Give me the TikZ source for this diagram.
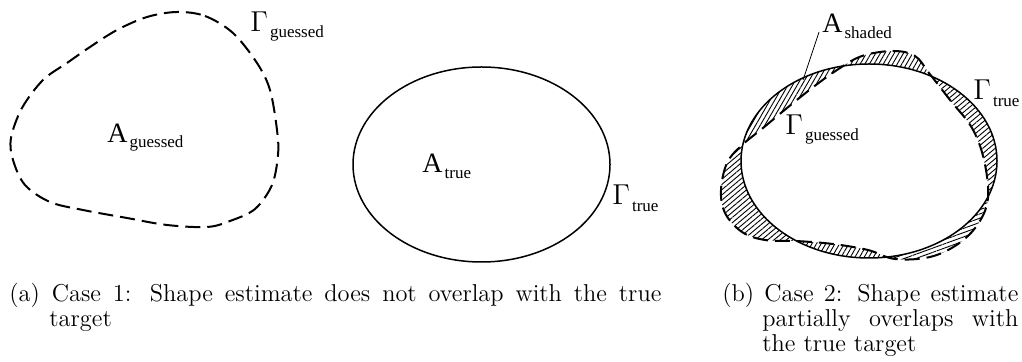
\documentclass[tikz,border=0pt]{standalone}
\usepackage{fontspec}
\newfontfamily\labfont{Liberation Serif}
\usetikzlibrary{calc,patterns.meta}
\newcommand{\mylab}[3]{{\labfont\fontsize{14}{14}\selectfont #1\hspace{1pt}\raisebox{-#3}{\fontsize{8.5}{8.5}\selectfont #2}}}
\tikzset{
  lab/.style={anchor=base west, inner sep=0pt},
  captext/.style={anchor=base west, inner sep=0pt, font=\fontsize{12.2}{12.5}\selectfont},
  truecurve/.style={line width=0.75pt},
  guesscurve/.style={line width=1pt, dash pattern=on 7.5pt off 3.5pt},
}
\begin{document}
\begin{tikzpicture}[x=0.5pt,y=-0.5pt]
\useasboundingbox (0,0) rectangle (1022,362);
% ---------- (a) ----------
\draw[guesscurve] plot[smooth cycle, tension=0.55] coordinates {
 (177,12) (205,16) (233,33) (257,63) (270,90) (277,130) (278,155) (272,185)
 (255,209) (230,221) (207,227) (167,225) (127,218) (83,210) (50,202) (25,185)
 (13,160) (11,138) (22,108) (43,80) (67,63) (90,47) (117,30) (147,17)};
\node[lab] (gga) at (250,32) {\mylab{$\Gamma$}{guessed}{3pt}};
\node[lab] (ag) at (107,143) {\mylab{A}{guessed}{2.5pt}};
\draw[truecurve] (481.5,164.5) ellipse [x radius=64.25pt, y radius=48.75pt];
\node[lab] (at) at (422,173) {\mylab{A}{true}{3pt}};
\node[lab] (gta) at (612,205) {\mylab{$\Gamma$}{true}{3.5pt}};
% ---------- (b) ----------
\coordinate (C) at (869,161);
\coordinate (P1) at (741,146);
\coordinate (P2) at (837,68);
\coordinate (P3) at (929,75);
\coordinate (P4) at (987,200);
\coordinate (P5) at (893,258);
\coordinate (P6) at (796,242);
\foreach \pa/\pb/\ang in {1/2/60, 2/3/60, 3/4/40, 4/5/20, 5/6/60, 6/1/40} {
  \begin{scope}
    \clip (C) -- ($(C)!5!(P\pa)$) -- ($(C)!5!(P\pb)$) -- cycle;
    \fill[pattern={Lines[angle=\ang,distance=2pt,line width=0.45pt]}, even odd rule]
      (C) ellipse [x radius=64pt, y radius=48.5pt]
      plot[smooth cycle, tension=0.6] coordinates {
      (741,146) (763,128) (787,108) (812,88) (837,70) (862,56) (893,51) (915,56)
      (929,73) (950,100) (972,128) (984,160) (988,198) (978,224) (958,244) (930,257)
      (895,259) (868,250) (833,244) (796,241) (765,240) (742,232) (725,213) (721,190) (727,163)};
  \end{scope}
}
\draw[truecurve] (C) ellipse [x radius=64pt, y radius=48.5pt];
\draw[guesscurve] plot[smooth cycle, tension=0.6] coordinates {
      (741,146) (763,128) (787,108) (812,88) (837,70) (862,56) (893,51) (915,56)
      (929,73) (950,100) (972,128) (984,160) (988,198) (978,224) (958,244) (930,257)
      (895,259) (868,250) (833,244) (796,241) (765,240) (742,232) (725,213) (721,190) (727,163)};
\node[lab] (as) at (822,33) {\mylab{A}{shaded}{3pt}};
\coordinate (astip) at (803,80);
\draw[line width=0.4pt] ($(as.base west)+(-3,-1)$) -- (astip);
\node[lab] (ggb) at (785,135) {\mylab{$\Gamma$}{guessed}{3pt}};
\node[lab] (gtb) at (973,100) {\mylab{$\Gamma$}{true}{3.5pt}};
% ---------- captions ----------
\node[captext] (capa) at (9,302) {\parbox[t]{326pt}{\makebox[326pt][s]{(a) Case 1: Shape estimate does not overlap with the true}\\\hspace*{20pt}target}};
\node[captext] (capb) at (722,302) {\parbox[t]{148pt}{\makebox[148pt][s]{(b) Case 2: Shape estimate}\\\hspace*{20pt}\makebox[128pt][s]{partially overlaps with}\\\hspace*{20pt}the true target}};
\end{tikzpicture}
\end{document}
